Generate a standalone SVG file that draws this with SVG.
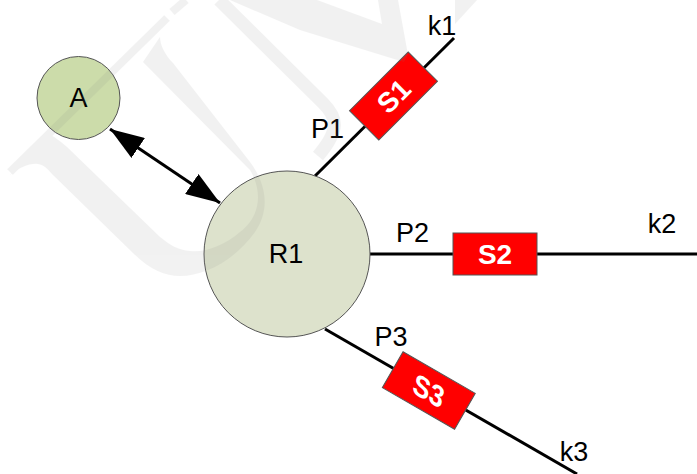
<svg xmlns="http://www.w3.org/2000/svg" width="697" height="474" viewBox="0 0 697 474">
<defs>
<style>
text{font-family:"Liberation Sans",Arial,sans-serif;fill:#000;font-size:27px;text-anchor:middle}
.s{font-weight:bold;fill:#fff;font-size:28px}
.c{stroke:#555;stroke-width:1}
.r{fill:#f00;stroke:#555;stroke-width:1}
.w{fill:none;stroke:#808080}
.wf{fill:#808080;stroke:none}
.l{stroke:#000;stroke-width:3;fill:none}
</style>
<marker id="ah" viewBox="0 0 34 24" refX="34" refY="12" markerWidth="34" markerHeight="24" markerUnits="userSpaceOnUse" orient="auto-start-reverse"><path d="M0 0L34 12L0 24z"/></marker>
</defs>
<g id="connectors">
<path class="l" d="M315 176L454 38"/>
<path class="l" d="M370 254H697"/>
<path class="l" d="M325 329L577 474"/>
<path d="M110 129L220 203" stroke="#000" stroke-width="3" fill="none" marker-start="url(#ah)" marker-end="url(#ah)"/>
</g>
<g id="A"><circle class="c" cx="78.500" cy="98" r="41.500" fill="#ccdcaa"/><text x="78.500" y="107">A</text></g>
<g id="R1"><circle class="c" cx="287" cy="254" r="83" fill="#dde2cc"/><text x="286" y="263">R1</text></g>
<g id="S1"><rect class="r" x="-41.500" y="-20.700" width="83" height="41.400" transform="translate(393.500 96) rotate(-45)"/><text class="s" transform="translate(393.500 96) rotate(-45)" y="10">S1</text></g>
<g id="S2"><rect class="r" x="453" y="233" width="84" height="42"/><text class="s" x="495" y="264">S2</text></g>
<g id="S3"><rect class="r" x="-41.700" y="-20.700" width="83.400" height="41.400" transform="translate(428.800 390.500) rotate(30)"/><text class="s" transform="translate(428.800 390.500) rotate(30) skewX(15)" y="10">S3</text></g>
<g id="labels">
<text x="327.500" y="138">P1</text>
<text x="412.500" y="242">P2</text>
<text x="391" y="346">P3</text>
<text x="442" y="35">k1</text>
<text x="662" y="233">k2</text>
<text x="574" y="461">k3</text>
</g>
<g id="watermark" opacity=".1">
<path class="wf" d="M10 175C18 168 30 163 38 164C44 165 48 169 52 174L133 253C150 270 165 276 180 276C205 276 235 260 255 232C270 210 267 185 250 162L173 63C165 55 160 45 160 37L143 62L250 170C262 190 262 215 240 232C225 245 205 253 190 251C178 250 170 245 160 237L67 147C55 137 50 133 43 135Z"/>
<path class="w" stroke-width="8" d="M10 172L167 18"/>
<path class="w" stroke-width="8" d="M172 12L186 0"/>
<path class="w" stroke-width="13" d="M219 0L323 103C338 118 340 130 318 156"/>
<path class="wf" d="M230 0H317L382 24L378 0H398L408 55L404 62L300 30Z"/>
<path class="wf" d="M455 0H477L455 24Z"/>
</g>
</svg>
